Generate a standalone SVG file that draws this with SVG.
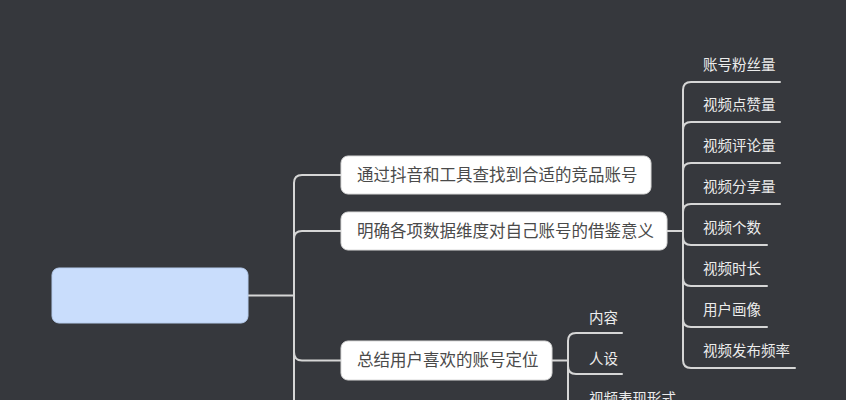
<svg xmlns="http://www.w3.org/2000/svg" width="846" height="400" viewBox="0 0 846 400">
<style>
.bg{fill:#36383d}
.root{fill:#c9ddfc;stroke:#b7cdee;stroke-width:1}
.box{fill:#ffffff;stroke:#d9d9d9;stroke-width:1}
.nt{font-family:"Noto Sans CJK SC","Noto Sans",sans-serif;font-size:16.5px;fill:#4a4a4a}
.st{font-family:"Noto Sans CJK SC","Noto Sans",sans-serif;font-size:14.5px;fill:#ececec}
.ln{fill:none;stroke:#d6d6d6;stroke-width:2;stroke-linecap:round}
</style>
<rect class="bg" x="0" y="0" width="846" height="400"/>
<g id="connectors">
<path class="ln" d="M248,295.5 H294"/>
<path class="ln" d="M294,295.5 V183 Q294,175 302,175 H341"/>
<path class="ln" d="M294,295.5 V239 Q294,231 302,231 H341"/>
<path class="ln" d="M294,295.5 V352 Q294,360.5 302,360.5 H341"/>
<path class="ln" d="M294,295.5 V410"/>
<path class="ln" d="M667,231 H683"/>
<path class="ln" d="M683,231 V90 Q683,82 691,82 H780"/>
<path class="ln" d="M683,231 V130 Q683,122 691,122 H780"/>
<path class="ln" d="M683,231 V171 Q683,163 691,163 H780"/>
<path class="ln" d="M683,231 V212 Q683,204 691,204 H780"/>
<path class="ln" d="M683,231 V237 Q683,245 691,245 H767"/>
<path class="ln" d="M683,231 V278 Q683,286 691,286 H767"/>
<path class="ln" d="M683,231 V319 Q683,327 691,327 H767"/>
<path class="ln" d="M683,231 V360 Q683,368 691,368 H795"/>
<path class="ln" d="M552,360.5 H568"/>
<path class="ln" d="M568,360.5 V341 Q568,333 576,333 H622"/>
<path class="ln" d="M568,360.5 V366 Q568,374 576,374 H622"/>
<path class="ln" d="M568,360.5 V410"/>
</g>
<g id="root"><rect class="root" x="52" y="268" width="196" height="55" rx="7"/></g>
<g id="n1"><rect class="box" x="341" y="156" width="310" height="38" rx="7"/><text class="nt" x="357" y="181">通过抖音和工具查找到合适的竞品账号</text></g>
<g id="n2"><rect class="box" x="341" y="212" width="326" height="38" rx="7"/><text class="nt" x="357" y="237">明确各项数据维度对自己账号的借鉴意义</text></g>
<g id="n3"><rect class="box" x="341" y="341" width="211" height="39" rx="7"/><text class="nt" x="357" y="366">总结用户喜欢的账号定位</text></g>
<g id="s1"><text class="st" x="703" y="70">账号粉丝量</text></g>
<g id="s2"><text class="st" x="703" y="110">视频点赞量</text></g>
<g id="s3"><text class="st" x="703" y="151">视频评论量</text></g>
<g id="s4"><text class="st" x="703" y="192">视频分享量</text></g>
<g id="s5"><text class="st" x="703" y="233">视频个数</text></g>
<g id="s6"><text class="st" x="703" y="274">视频时长</text></g>
<g id="s7"><text class="st" x="703" y="315">用户画像</text></g>
<g id="s8"><text class="st" x="703" y="356">视频发布频率</text></g>
<g id="t1"><text class="st" x="589" y="323">内容</text></g>
<g id="t2"><text class="st" x="589" y="364">人设</text></g>
<g id="t3"><text class="st" x="589" y="404">视频表现形式</text></g>
</svg>
